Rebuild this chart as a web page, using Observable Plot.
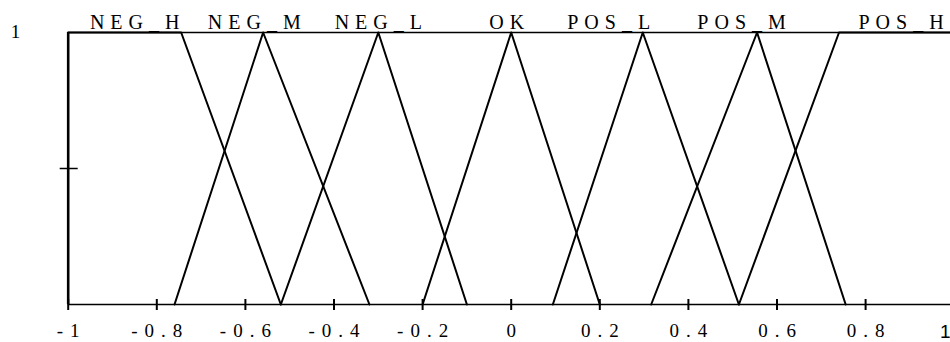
<!DOCTYPE html>
<html>
<head>
<meta charset="utf-8">
<script src="https://cdn.jsdelivr.net/npm/d3@7"></script>
<script src="https://cdn.jsdelivr.net/npm/@observablehq/plot@0.6"></script>
<style>
  html, body { margin: 0; padding: 0; background: #fff; overflow: hidden; }
  #chart svg { display: block; }
</style>
</head>
<body>
<div id="chart"></div>
<script>
// Fuzzy sets of the error variable: names, breakpoints and membership grades
const setNames = ["NEG_H", "NEG_M", "NEG_L", "OK", "POS_L", "POS_M", "POS_H"];
const setBreaks = [
  [-1, -0.745, -0.52],
  [-0.76, -0.56, -0.32],
  [-0.52, -0.30, -0.10],
  [-0.20, 0, 0.20],
  [0.094, 0.297, 0.514],
  [0.316, 0.555, 0.755],
  [0.514, 0.74, 1]
];
const setGrades = [
  [1, 1, 0],
  [0, 1, 0],
  [0, 1, 0],
  [0, 1, 0],
  [0, 1, 0],
  [0, 1, 0],
  [0, 1, 1]
];
// where each set name sits along the top edge
const labelAt = [-0.85, -0.58, -0.30, -0.01, 0.22, 0.52, 0.88];

const xTicks = [-1, -0.8, -0.6, -0.4, -0.2, 0, 0.2, 0.4, 0.6, 0.8, 1];
const xTickLabels = ["-1", "-0.8", "-0.6", "-0.4", "-0.2", "0", "0.2", "0.4", "0.6", "0.8", "1"];
const yTicks = [0.5];
const yLabelValues = [1];
const yLabels = ["1"];

const rows = setNames.flatMap((name, i) =>
  setBreaks[i].map((x, j) => ({set: name, x, mu: setGrades[i][j]}))
);
const nameRows = setNames.map((name, i) => ({name, at: labelAt[i], mu: 1}));
const tickRows = xTicks.map((v, i) => ({v, label: xTickLabels[i], mu: 0}));
const yLabelRows = yLabelValues.map((v, i) => ({v, label: yLabels[i], x: -1}));

const serif = "'Liberation Serif', 'Times New Roman', Times, serif";
const sans = "'Liberation Sans', Arial, Helvetica, sans-serif";

const chart = Plot.plot({
  width: 950,
  height: 342,
  marginLeft: 67.7,
  marginRight: -3.7,
  marginTop: 32,
  marginBottom: 38,
  x: {domain: [-1, 1], axis: null},
  y: {domain: [0, 1], axis: null},
  style: {background: "#fff", color: "#000"},
  marks: [
    // membership = 1 line across the top
    Plot.ruleY([1], {stroke: "#000", strokeWidth: 1.3}),
    // horizontal axis line
    Plot.ruleY([0], {stroke: "#000", strokeWidth: 1.5}),
    // vertical axis
    Plot.ruleX([-1], {y1: 1, y2: 0, stroke: "#000", strokeWidth: 2.6}),
    // x ticks crossing the axis
    Plot.ruleX(xTicks, {y1: 0, y2: 0, insetTop: -5, insetBottom: -6, stroke: "#000", strokeWidth: 2}),
    // y tick crossing the axis
    Plot.ruleY(yTicks, {x1: -1, x2: -1, insetLeft: -8, insetRight: -10, stroke: "#000", strokeWidth: 1.5}),
    // membership functions
    Plot.line(rows, {x: "x", y: "mu", z: "set", stroke: "#000", strokeWidth: 2, strokeLinejoin: "round"}),
    // set names
    Plot.text(nameRows, {
      x: "at", y: "mu", text: "name", dy: -10.4, dx: 3,
      fontSize: 20, fontFamily: serif, fill: "#000"
    }),
    // x tick labels
    Plot.text(tickRows.filter(d => d.v < 1), {
      x: "v", y: "mu", text: "label", dy: 26.9, dx: 3.5,
      fontSize: 19, fontFamily: serif, fill: "#000"
    }),
    Plot.text(tickRows.filter(d => d.v === 1), {
      x: "v", y: "mu", text: "label", dy: 27, dx: -9,
      fontSize: 19, fontFamily: sans, fill: "#000"
    }),
    // y tick label
    Plot.text(yLabelRows, {
      x: "x", y: "v", text: "label", dx: -52.7, dy: -0.1,
      fontSize: 19, fontFamily: serif, fill: "#000"
    })
  ]
});

// spaced-out lettering for set names and the serif tick labels
const nameSet = new Set(setNames);
const tickSet = new Set(xTickLabels.slice(0, -1));
d3.select(chart).selectAll("text").each(function () {
  const t = this.textContent;
  const fam = this.getAttribute("font-family") || this.closest("g")?.getAttribute("font-family");
  if (fam !== serif) return;
  if (nameSet.has(t)) this.setAttribute("letter-spacing", "6px");
  else if (tickSet.has(t)) this.setAttribute("letter-spacing", "7px");
});

document.getElementById("chart").appendChild(chart);
</script>
</body>
</html>
